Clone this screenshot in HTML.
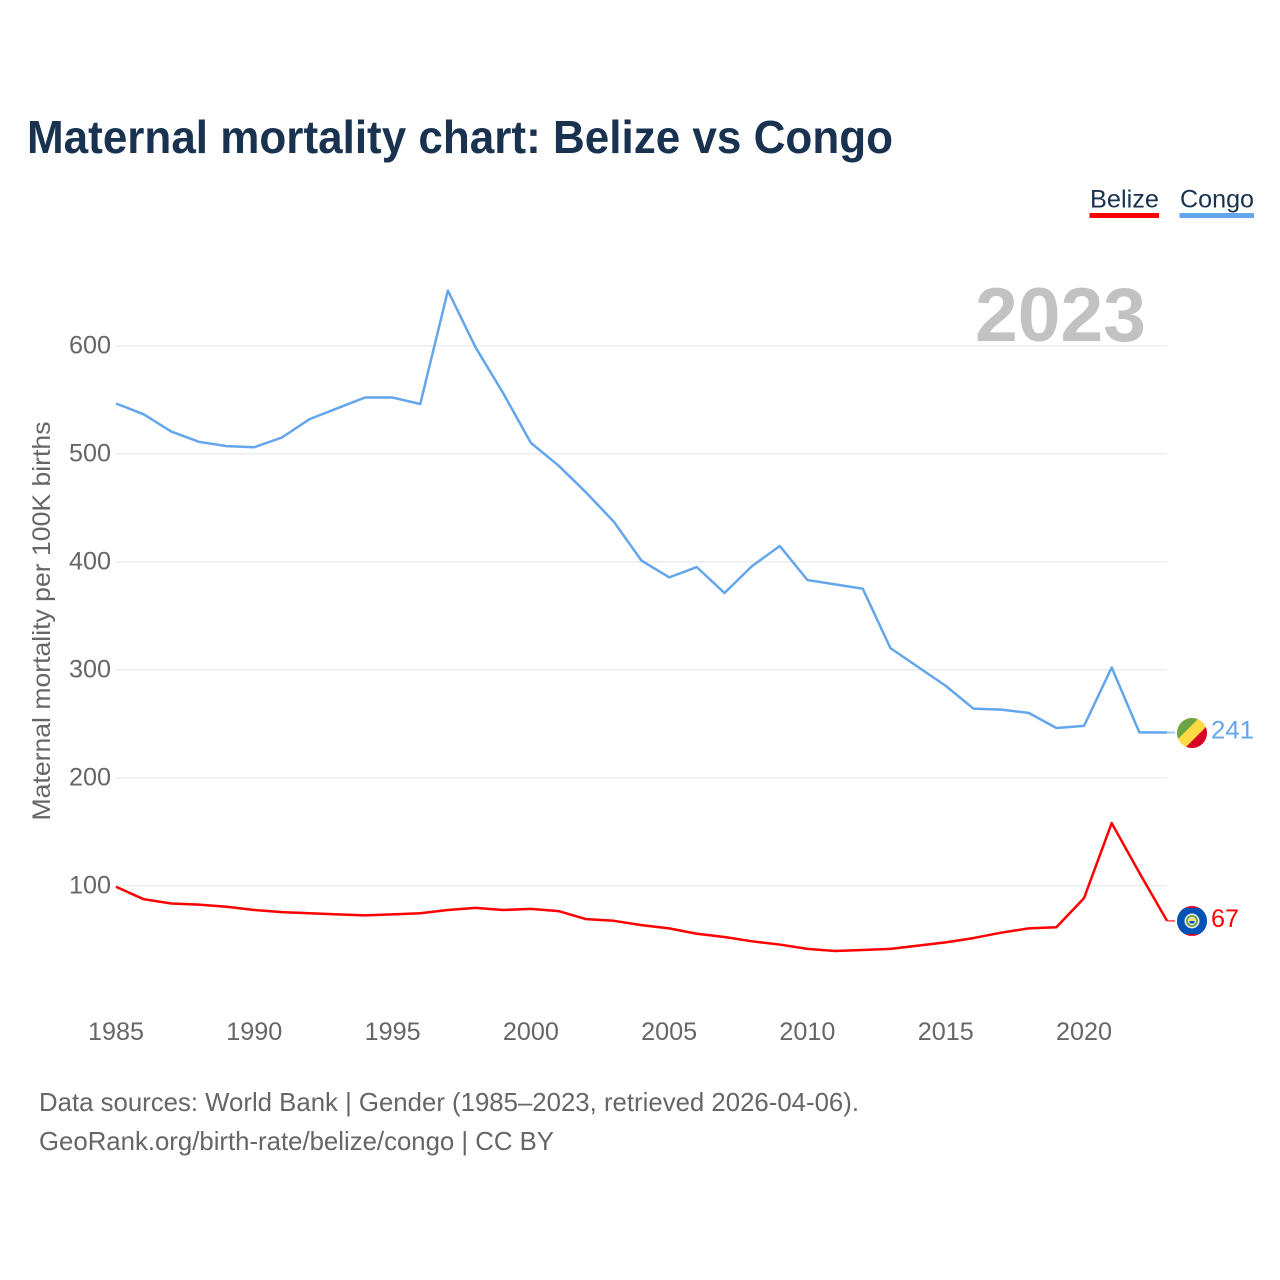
<!DOCTYPE html>
<html lang="en">
<head>
<meta charset="utf-8">
<title>Maternal mortality chart: Belize vs Congo</title>
<style>
html,body{margin:0;padding:0;background:#fff;width:1280px;height:1280px;overflow:hidden}
svg{display:block;font-family:"Liberation Sans",sans-serif}
</style>
</head>
<body>
<svg id="chart" width="1280" height="1280" viewBox="0 0 1280 1280">
  <rect width="1280" height="1280" fill="#fff"/>
  <text x="27" y="153" font-size="46" font-weight="700" fill="#18324f" textLength="866" lengthAdjust="spacingAndGlyphs">Maternal mortality chart: Belize vs Congo</text>
  <g id="legend">
    <g>
      <text x="1090" y="207.500" font-size="25" fill="#18324f" textLength="69" lengthAdjust="spacingAndGlyphs">Belize</text>
      <rect x="1089.5" y="213" width="69.5" height="5" fill="#ff0000"/>
    </g>
    <g>
      <text x="1180" y="207.500" font-size="25" fill="#18324f" textLength="74" lengthAdjust="spacingAndGlyphs">Congo</text>
      <rect x="1179.5" y="213" width="74.5" height="5" fill="#63a6ec"/>
    </g>
  </g>
  <text x="1146" y="341" text-anchor="end" font-size="76" font-weight="700" fill="#c2c2c2" textLength="171" lengthAdjust="spacingAndGlyphs">2023</text>
  <g id="grid"></g>
  <g id="y-ticks"></g>
  <g id="x-ticks"></g>
  <text transform="translate(50,621) rotate(-90)" text-anchor="middle" font-size="25" fill="#666" textLength="399" lengthAdjust="spacingAndGlyphs">Maternal mortality per 100K births</text>
  <g id="series"></g>
  <defs>
    <clipPath id="clip-congo"><circle cx="1192" cy="733" r="15"/></clipPath>
    <clipPath id="clip-belize"><circle cx="1192" cy="921" r="15"/></clipPath>
  </defs>
  <g clip-path="url(#clip-congo)">
    <rect x="1177" y="718" width="30" height="30" fill="#ffda44"/>
    <polygon points="1177,718 1199,718 1177,740" fill="#6da544"/>
    <polygon points="1207,726 1207,748 1185,748" fill="#d80027"/>
  </g>
  <g clip-path="url(#clip-belize)">
    <rect x="1177" y="906" width="30" height="30" fill="#d80027"/>
    <rect x="1177" y="908" width="30" height="26" fill="#0052b4"/>
    <circle cx="1192" cy="921" r="7.500" fill="#f0f0f0"/>
    <circle cx="1192" cy="921" r="6" fill="#6da544"/>
    <circle cx="1192" cy="921" r="4" fill="#f0f0f0"/>
    <rect x="1189.5" y="918.500" width="5" height="2.500" fill="#ffda44"/>
    <rect x="1189.5" y="921" width="5" height="2.500" fill="#0052b4"/>
  </g>
  <g id="end-labels"></g>
  <text x="39" y="1111" font-size="26" fill="#666" textLength="820" lengthAdjust="spacingAndGlyphs">Data sources: World Bank | Gender (1985–2023, retrieved 2026-04-06).</text>
  <text x="39" y="1150" font-size="26" fill="#666" textLength="515" lengthAdjust="spacingAndGlyphs">GeoRank.org/birth-rate/belize/congo | CC BY</text>
</svg>
<script>
const years = [1985,1986,1987,1988,1989,1990,1991,1992,1993,1994,1995,1996,1997,1998,1999,2000,2001,2002,2003,2004,2005,2006,2007,2008,2009,2010,2011,2012,2013,2014,2015,2016,2017,2018,2019,2020,2021,2022,2023];
const belizeValues = [99,87.5,83.5,82.5,80.5,77.5,75.5,74.5,73.5,72.5,73.5,74.5,77.5,79.5,77.5,78.5,76.5,69,67.5,63.5,60.5,55.5,52.5,48.5,45.5,41.5,39.5,40.5,41.5,44.5,47.5,51.5,56.5,60.5,61.5,88.5,158,112,67.5];
const congoValues = [546.5,536.5,520.5,511,507,506,515,532,542,552,552,546,651,598.5,556,510,489,464,437,401,385.5,395,371,396,414.5,383,379,375,320,302.5,285,264,263,260,246,248,302,242,241.8];
const yTickValues = [100,200,300,400,500,600];
const xTickValues = [1985,1990,1995,2000,2005,2010,2015,2020];
const belizeEndLabel = "67";
const congoEndLabel = "241";

const NS = "http://www.w3.org/2000/svg";
const xLeft = 116, xRight = 1167;
function xScale(year){ return xLeft + (year - 1985) * (xRight - xLeft) / (2023 - 1985); }
function yScale(value){ return 993.7 - value * 1.08; }
function make(tag, attrs){
  const el = document.createElementNS(NS, tag);
  for (const k in attrs) el.setAttribute(k, attrs[k]);
  return el;
}
const grid = document.getElementById("grid");
const yTicks = document.getElementById("y-ticks");
const xTicks = document.getElementById("x-ticks");
const seriesGroup = document.getElementById("series");
const endLabels = document.getElementById("end-labels");

yTickValues.forEach(function(v){
  const line = make("line", {x1:xLeft, x2:xRight, y1:yScale(v), y2:yScale(v), stroke:"#ececec", "stroke-width":1.5});
  
  
  grid.appendChild(line);
  const t = make("text", {x:111, y:yScale(v)+8, "text-anchor":"end", "font-size":25, fill:"#666", textLength:String(v).length*14, lengthAdjust:"spacingAndGlyphs"});
  
  
  t.textContent = v;
  yTicks.appendChild(t);
});
xTickValues.forEach(function(y){
  const t = make("text", {x:xScale(y), y:1040, "text-anchor":"middle", "font-size":25, fill:"#666", textLength:56, lengthAdjust:"spacingAndGlyphs"});
  
  
  t.textContent = y;
  xTicks.appendChild(t);
});
function drawSeries(values, color, lineName, leadName){
  const pts = values.map(function(v,i){ return xScale(years[i]).toFixed(2)+","+yScale(v).toFixed(2); }).join(" ");
  const line = make("polyline", {points:pts, fill:"none", stroke:color, "stroke-width":2.5, "stroke-linejoin":"round"});
  
  
  seriesGroup.appendChild(line);
  const last = yScale(values[values.length-1]);
  const lead = make("line", {x1:xRight, x2:1175, y1:last, y2:last, stroke:color, "stroke-width":1.8, opacity:0.65});
  
  
  seriesGroup.appendChild(lead);
}
drawSeries(congoValues, "#63a6ec", "congo-line", "congo-leader-line");
drawSeries(belizeValues, "#ff0000", "belize-line", "belize-leader-line");

const congoLabel = make("text", {x:1211, y:yScale(congoValues[congoValues.length-1])+6, "font-size":25, fill:"#63a6ec", textLength:43, lengthAdjust:"spacingAndGlyphs"});


congoLabel.textContent = congoEndLabel;
endLabels.appendChild(congoLabel);
const belizeLabel = make("text", {x:1211, y:yScale(belizeValues[belizeValues.length-1])+6, "font-size":25, fill:"#ff0000", textLength:28, lengthAdjust:"spacingAndGlyphs"});


belizeLabel.textContent = belizeEndLabel;
endLabels.appendChild(belizeLabel);
</script>
</body>
</html>
